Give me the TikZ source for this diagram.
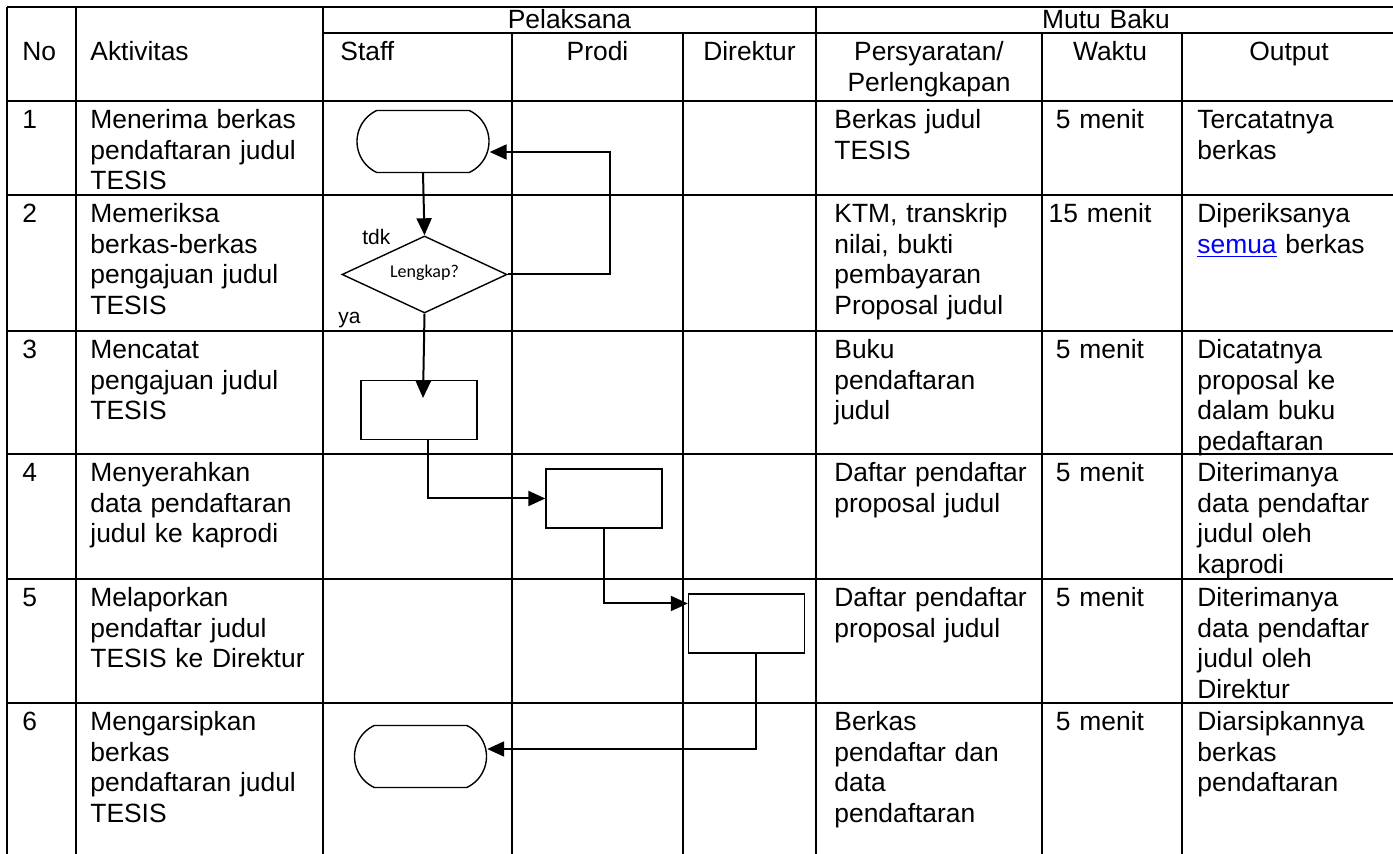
\documentclass[tikz,border=0pt]{standalone}
\usepackage{fontspec}
\setmainfont{Liberation Sans}
\newfontfamily\calibfont{Carlito}
\usetikzlibrary{arrows.meta,calc,shapes.geometric,shapes.misc}
\definecolor{ink}{HTML}{000000}
\definecolor{linkblue}{HTML}{0000FF}
\newcommand{\txt}{\fontsize{13.2}{15.2}\selectfont}
\newcommand{\lbl}{\fontsize{10.5}{12}\selectfont}
\newcommand{\deci}{\calibfont\fontsize{9}{11}\selectfont}

\begin{document}
\begin{tikzpicture}[x=0.5pt,y=-0.5pt,font=\txt,
  grid/.style={ink,line width=1pt},
  cellL/.style={anchor=base west,inner sep=0,text width=115pt,align=left},
  cellC/.style={anchor=base,inner sep=0,text width=110pt,align=center},
  term/.style={rounded rectangle,rounded rectangle arc length=130,draw=ink,line width=0.7pt,minimum width=66pt,minimum height=31pt,inner sep=0},
  proc/.style={draw=ink,line width=0.7pt,minimum width=58pt,minimum height=29.5pt,inner sep=0},
  dec/.style={diamond,draw=ink,line width=0.7pt,aspect=2.1,minimum width=82.5pt,minimum height=38.5pt,inner sep=0,font=\deci},
  flow/.style={ink,line width=1pt,-{Triangle[length=8.5pt,width=7.5pt]}}]
\useasboundingbox (0,0) rectangle (1393,854);
% grid of the table
\draw[grid] (7,7) -- (1393,7);
\draw[grid] (323,33) -- (1393,33);
\foreach \y in {101,195,331,454,579,703} \draw[grid] (7,\y) -- (1393,\y);
\foreach \x in {7,76,323,816} \draw[grid] (\x,7) -- (\x,854);
\foreach \x in {512,683,1042,1182} \draw[grid] (\x,33) -- (\x,854);
% header
\node[cellC] (hpel) at (569.5,29) {Pelaksana};
\node[cellC] (hmutu) at (1106,29) {Mutu Baku};
\node[cellL] (hno) at (22,61) {No};
\node[cellL] (hakt) at (90,61) {Aktivitas};
\node[cellL] (hstaff) at (340,61) {Staff};
\node[cellC] (hprodi) at (597.5,61) {Prodi};
\node[cellC] (hdir) at (749.5,61) {Direktur};
\node[cellC] (hsyarat) at (929,61) {Persyaratan/\\Perlengkapan};
\node[cellC] (hwaktu) at (1110,61) {Waktu};
\node[cellC] (hout) at (1289,61) {Output};
% row 1
\node[cellL] (no1) at (22,129) {1};
\node[cellL] (akt1) at (90,129) {Menerima berkas\\pendaftaran judul\\TESIS};
\node[cellL] (syr1) at (834,129) {Berkas judul\\TESIS};
\node[cellC] (wkt1) at (1100,129) {5 menit};
\node[cellL] (out1) at (1197,129) {Tercatatnya\\berkas};
% row 2
\node[cellL] (no2) at (22,223) {2};
\node[cellL] (akt2) at (90,223) {Memeriksa\\berkas-berkas\\pengajuan judul\\TESIS};
\node[cellL] (syr2) at (834,223) {KTM, transkrip\\nilai, bukti\\pembayaran\\Proposal judul};
\node[cellC] (wkt2) at (1100,223) {15 menit};
\node[cellL] (out2) at (1197,223) {Diperiksanya\\{\color{linkblue}\underline{semua}} berkas};
% row 3
\node[cellL] (no3) at (22,359) {3};
\node[cellL] (akt3) at (90,359) {Mencatat\\pengajuan judul\\TESIS};
\node[cellL] (syr3) at (834,359) {Buku\\pendaftaran\\judul};
\node[cellC] (wkt3) at (1100,359) {5 menit};
\node[cellL] (out3) at (1197,359) {Dicatatnya\\proposal ke\\dalam buku\\pedaftaran};
% row 4
\node[cellL] (no4) at (22,482) {4};
\node[cellL] (akt4) at (90,482) {Menyerahkan\\data pendaftaran\\judul ke kaprodi};
\node[cellL] (syr4) at (834,482) {Daftar pendaftar\\proposal judul};
\node[cellC] (wkt4) at (1100,482) {5 menit};
\node[cellL] (out4) at (1197,482) {Diterimanya\\data pendaftar\\judul oleh\\kaprodi};
% row 5
\node[cellL] (no5) at (22,607) {5};
\node[cellL] (akt5) at (90,607) {Melaporkan\\pendaftar judul\\TESIS ke Direktur};
\node[cellL] (syr5) at (834,607) {Daftar pendaftar\\proposal judul};
\node[cellC] (wkt5) at (1100,607) {5 menit};
\node[cellL] (out5) at (1197,607) {Diterimanya\\data pendaftar\\judul oleh\\Direktur};
% row 6
\node[cellL] (no6) at (22,731) {6};
\node[cellL] (akt6) at (90,731) {Mengarsipkan\\berkas\\pendaftaran judul\\TESIS};
\node[cellL] (syr6) at (834,731) {Berkas\\pendaftar dan\\data\\pendaftaran};
\node[cellC] (wkt6) at (1100,731) {5 menit};
\node[cellL] (out6) at (1197,731) {Diarsipkannya\\berkas\\pendaftaran};
% flow shapes
\node[term] (mulai) at (423,141.5) {};
\node[dec] (cek) at (424.5,274.5) {\raisebox{3pt}{Lengkap?}};
\node[proc] (catat) at (419,410) {};
\node[proc] (serah) at (604,498.5) {};
\node[proc] (lapor) at (746.5,623.5) {};
\node[term] (arsip) at (420.5,756.5) {};
\node[anchor=base west,inner sep=0,font=\lbl] (tdk) at (362,245) {tdk};
\node[anchor=base west,inner sep=0,font=\lbl] (ya) at (338,324) {ya};
% connectors
\coordinate (balik) at (610,152);
\coordinate (masuk) at (423,398);
\coordinate (ke3) at ($(lapor.west)+(0,-20)$);
\draw[flow] (mulai.south) -- (cek.north);
\draw[flow] (cek.east) -| (balik) -- (mulai.east |- balik);
\draw[flow] (cek.south) -- (masuk);
\draw[flow] ($(catat.south)+(9,0)$) |- (serah.west);
\draw[flow] (serah.south) |- (ke3);
\draw[flow] ($(lapor.south)+(9.5,0)$) |- ($(arsip.east)+(0,-7.5)$);
\end{tikzpicture}
\end{document}
